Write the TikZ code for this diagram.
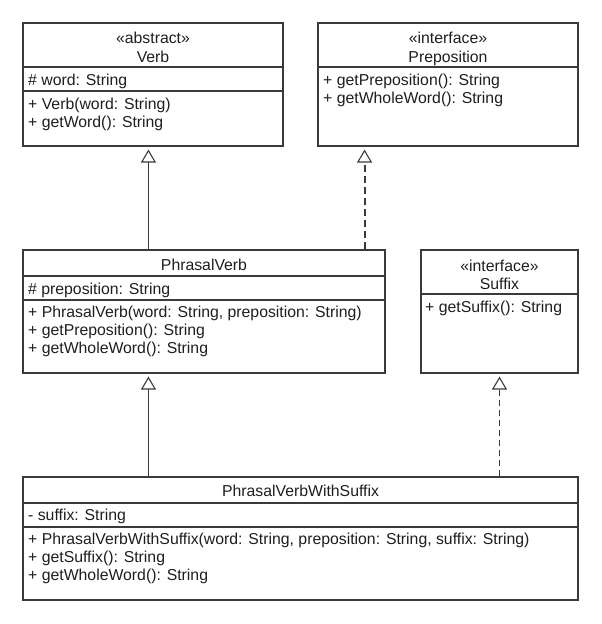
\documentclass[tikz,border=0pt]{standalone}
\usepackage{fontspec}
\setmainfont{Liberation Sans}
\usetikzlibrary{arrows.meta}
\definecolor{umlline}{HTML}{3A3A3A}
\definecolor{umltext}{HTML}{1E1E1E}
\begin{document}
\begin{tikzpicture}[x=1pt, y=-1pt,
    font=\fontsize{15.8}{18}\selectfont,
    classbox/.style={draw=umlline, line width=1.1pt, rectangle, inner sep=0pt},
    member/.style={anchor=west, inner sep=0pt, text height=10pt, text depth=0pt, text=umltext},
    heading/.style={inner sep=0pt, text height=10pt, text depth=0pt, text=umltext},
    divider/.style={draw=umlline, line width=1.1pt},
    inherit/.style={draw=umlline, line width=1.1pt, shorten >=3pt,
        -{Triangle[open, width=15pt, length=13pt, line width=1.1pt]}},
    realize/.style={inherit, dash pattern=on 6pt off 4pt}]
    \useasboundingbox (0,0) rectangle (602,624);
    % Verb
    \node[classbox, minimum width=260, minimum height=123] (verb) at (153,84.5) {};
    \node[heading] (verbst) at (153,38) {«abstract»};
    \node[heading] (verbname) at (153,57) {Verb};
    \draw[divider] (23,67) -- (283,67);
    \node[member] (verba) at (28,80) {\# word: String};
    \draw[divider] (23,91) -- (283,91);
    \node[member] (verbm1) at (28,104) {+ Verb(word: String)};
    \node[member] (verbm2) at (28,122) {+ getWord(): String};
    % Preposition
    \node[classbox, minimum width=260, minimum height=123] (prep) at (448,84.5) {};
    \node[heading] (prepst) at (448,38) {«interface»};
    \node[heading] (prepname) at (448,57) {Preposition};
    \draw[divider] (318,67) -- (578,67);
    \node[member] (prepm1) at (323,80) {+ getPreposition(): String};
    \node[member] (prepm2) at (323,98) {+ getWholeWord(): String};
    % PhrasalVerb
    \node[classbox, minimum width=362, minimum height=123] (phrasal) at (204,311.5) {};
    \node[heading] (phrasalname) at (204,265) {PhrasalVerb};
    \draw[divider] (23,276) -- (385,276);
    \node[member] (phrasala) at (28,289) {\# preposition: String};
    \draw[divider] (23,300) -- (385,300);
    \node[member] (phrasalm1) at (28,312) {+ PhrasalVerb(word: String, preposition: String)};
    \node[member] (phrasalm2) at (28,330) {+ getPreposition(): String};
    \node[member] (phrasalm3) at (28,348) {+ getWholeWord(): String};
    % Suffix
    \node[classbox, minimum width=157, minimum height=123] (suffix) at (499.5,311.5) {};
    \node[heading] (suffixst) at (499.5,266) {«interface»};
    \node[heading] (suffixname) at (499.5,284) {Suffix};
    \draw[divider] (421,294) -- (578,294);
    \node[member] (suffixm1) at (425,307) {+ getSuffix(): String};
    % PhrasalVerbWithSuffix
    \node[classbox, minimum width=555, minimum height=123] (withsuffix) at (300.5,538.5) {};
    \node[heading] (withsuffixname) at (300.5,491) {PhrasalVerbWithSuffix};
    \draw[divider] (23,503) -- (578,503);
    \node[member] (withsuffixa) at (28,515) {- suffix: String};
    \draw[divider, line width=2pt] (23,527) -- (578,527);
    \node[member] (withsuffixm1) at (28,539) {+ PhrasalVerbWithSuffix(word: String, preposition: String, suffix: String)};
    \node[member] (withsuffixm2) at (28,557) {+ getSuffix(): String};
    \node[member] (withsuffixm3) at (28,575) {+ getWholeWord(): String};
    % relations
    \draw[inherit] ([xshift=126pt]phrasal.north west) -- ([xshift=126pt]phrasal.north west |- verb.south);
    \draw[realize, line width=2pt, dash pattern=on 7pt off 4pt] ([xshift=-21pt]phrasal.north east) -- ([xshift=-21pt]phrasal.north east |- prep.south);
    \draw[inherit] ([xshift=126pt]withsuffix.north west) -- ([xshift=126pt]withsuffix.north west |- phrasal.south);
    \draw[realize] (withsuffix.north -| suffix.south) -- (suffix.south);
\end{tikzpicture}
\end{document}
